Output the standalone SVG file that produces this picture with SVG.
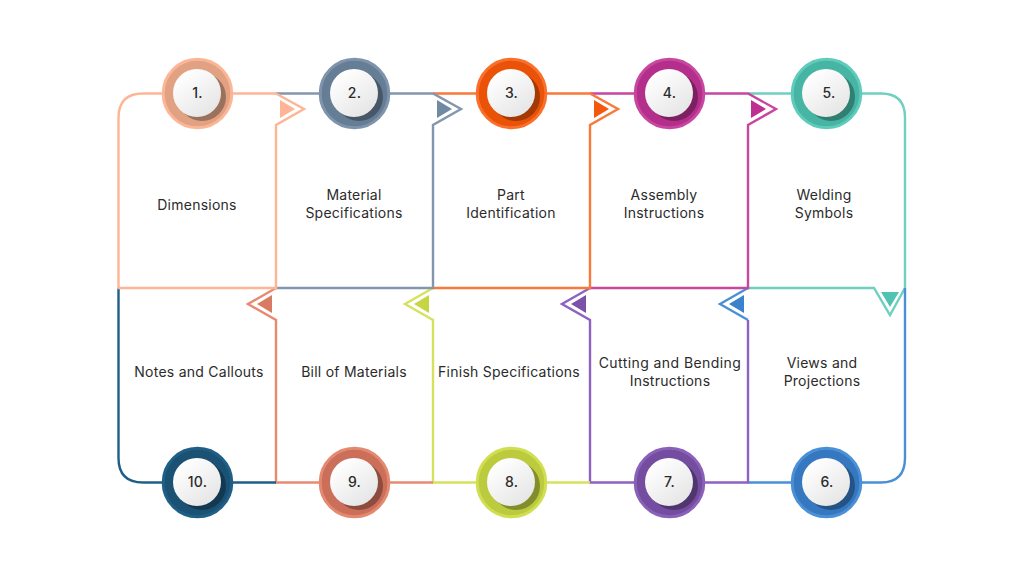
<svg xmlns="http://www.w3.org/2000/svg" width="1024" height="576" viewBox="0 0 1024 576">
<defs>
<linearGradient id="w" x1="0.2" y1="0.1" x2="0.8" y2="0.9"><stop offset="0" stop-color="#ffffff"/><stop offset="1" stop-color="#e6e6e6"/></linearGradient>
</defs>
<style>
.l{fill:none;stroke-width:2.4;stroke-linejoin:miter}
.o{stroke-width:3}
.s{opacity:.3;fill:#000}
.w{fill:url(#w)}
text{font-family:"Inter","Liberation Sans",sans-serif;font-size:14px;fill:#2b2b2b;text-anchor:middle;letter-spacing:.25px}
.n{font-weight:500}
.c{letter-spacing:.42px}
</style>
<rect width="1024" height="576" fill="#fff"/>
<g id="connectors">
<path class="l" stroke="#6fd0c2" d="M748 93.5H881Q905 93.5 905 117.500V288L890 315L874 288H748"/>
<path class="l" stroke="#4a90d6" d="M905 288V458Q905 482.500 881 482.500H748M748 320L720 304L748 288"/>
<path class="l" stroke="#8e62c0" d="M748 320V482.500H590V320L562 304L590 288"/>
<path class="l" stroke="#d6e25e" d="M590 482.500H433V320L405 304L433 288"/>
<path class="l" stroke="#e88a72" d="M433 482.500H276V320L248 304L276 288"/>
<path class="l" stroke="#1f5f87" d="M118.500 288V458Q118.500 482.500 143 482.500H276"/>
<path class="l" stroke="#c8469f" d="M590 93.5H748L776 109L748 125V288H590"/>
<path class="l" stroke="#f9793a" d="M433 93.5H590L618 109L590 125V288H433"/>
<path class="l" stroke="#8396ae" d="M276 93.5H433L461 109L433 125V288H276"/>
<path class="l" stroke="#fdb596" d="M276 93.5H143Q118.500 93.500 118.500 118V288H276V125L304 109L276 93.500"/>
<path fill="#fdb596" d="M280 100L295 109L280 118Z"/>
<path fill="#718aa3" d="M437 100L452 109L437 118Z"/>
<path fill="#f4580f" d="M594 100L609 109L594 118Z"/>
<path fill="#be3090" d="M751 100L766 109L751 118Z"/>
<path fill="#50c4b2" d="M881 292H899L890 307Z"/>
<path fill="#3a82cc" d="M744 295L729 304L744 313Z"/>
<path fill="#7c52a8" d="M586 295L571 304L586 313Z"/>
<path fill="#c6d544" d="M429 295L414 304L429 313Z"/>
<path fill="#d97b64" d="M272 295L257 304L272 313Z"/>
</g>
<g id="node1"><circle cx="197.500" cy="93.500" r="34.300" fill="#e0a283" stroke="#fdb596" class="o"/><circle class="s" cx="202" cy="97" r="24"/><circle class="w" cx="197" cy="93" r="24"/><text class="n" x="197.500" y="98">1.</text><text x="197" y="209.500">Dimensions</text></g>
<g id="node2"><circle cx="354.500" cy="93.500" r="34.300" fill="#667d96" stroke="#7f93ac" class="o"/><circle class="s" cx="359" cy="97" r="24"/><circle class="w" cx="354" cy="93" r="24"/><text class="n" x="354.500" y="98">2.</text><text x="354" y="200">Material</text><text x="354" y="218">Specifications</text></g>
<g id="node3"><circle cx="511.500" cy="93.500" r="34.300" fill="#ea5207" stroke="#f9702c" class="o"/><circle class="s" cx="516" cy="97" r="24"/><circle class="w" cx="511" cy="93" r="24"/><text class="n" x="511.500" y="98">3.</text><text x="511" y="200">Part</text><text x="511" y="218">Identification</text></g>
<g id="node4"><circle cx="669.500" cy="93.500" r="34.300" fill="#b32f8b" stroke="#c8469f" class="o"/><circle class="s" cx="674" cy="97" r="24"/><circle class="w" cx="669" cy="93" r="24"/><text class="n" x="669.500" y="98">4.</text><text x="664" y="200">Assembly</text><text x="664" y="218">Instructions</text></g>
<g id="node5"><circle cx="826.500" cy="93.500" r="34.300" fill="#47b5a4" stroke="#5fcbba" class="o"/><circle class="s" cx="831" cy="97" r="24"/><circle class="w" cx="826" cy="93" r="24"/><text class="n" x="829" y="98">5.</text><text x="824" y="200">Welding</text><text x="824" y="218">Symbols</text></g>
<g id="node6"><circle cx="826.500" cy="482.500" r="34.300" fill="#3578c0" stroke="#4a90d6" class="o"/><circle class="s" cx="831" cy="486" r="24"/><circle class="w" cx="826" cy="482" r="24"/><text class="n" x="827" y="487">6.</text><text x="822" y="367.500">Views and</text><text x="822" y="385.500">Projections</text></g>
<g id="node7"><circle cx="669.500" cy="482.500" r="34.300" fill="#744da0" stroke="#8a60b8" class="o"/><circle class="s" cx="674" cy="486" r="24"/><circle class="w" cx="669" cy="482" r="24"/><text class="n" x="669.500" y="487">7.</text><text class="c" x="670" y="367.500">Cutting and Bending</text><text x="670" y="385.500">Instructions</text></g>
<g id="node8"><circle cx="511.500" cy="482.500" r="34.300" fill="#bccb3e" stroke="#d0de52" class="o"/><circle class="s" cx="516" cy="486" r="24"/><circle class="w" cx="511" cy="482" r="24"/><text class="n" x="511.500" y="487">8.</text><text x="509" y="376.500">Finish Specifications</text></g>
<g id="node9"><circle cx="354.500" cy="482.500" r="34.300" fill="#cb6f5a" stroke="#e58870" class="o"/><circle class="s" cx="359" cy="486" r="24"/><circle class="w" cx="354" cy="482" r="24"/><text class="n" x="354.500" y="487">9.</text><text x="354" y="376.500">Bill of Materials</text></g>
<g id="node10"><circle cx="197.500" cy="482.500" r="34.300" fill="#1b5274" stroke="#1f5f87" class="o"/><circle class="s" cx="202" cy="486" r="24"/><circle class="w" cx="197" cy="482" r="24"/><text class="n" x="197.500" y="487">10.</text><text x="199" y="376.500">Notes and Callouts</text></g>
</svg>
